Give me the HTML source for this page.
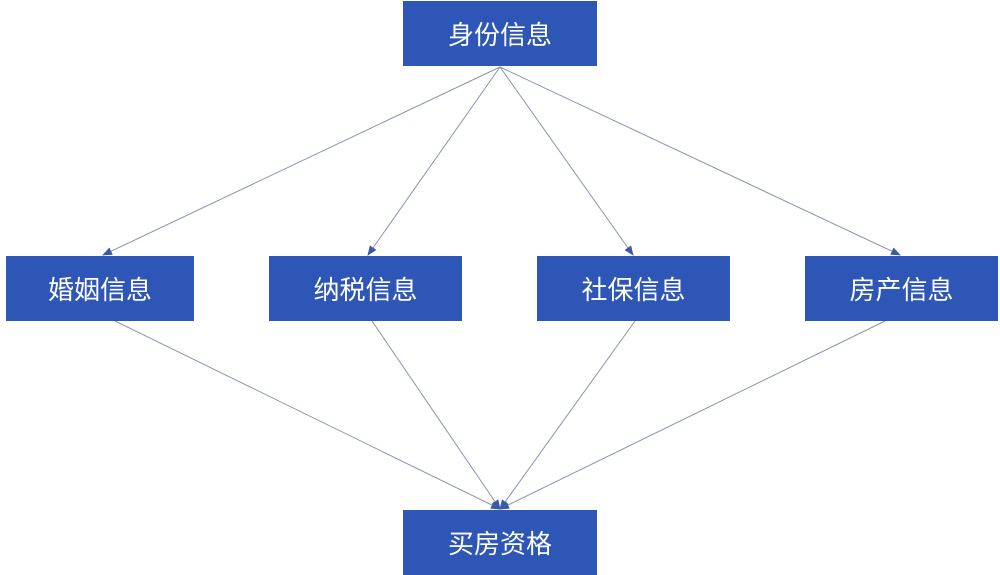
<!DOCTYPE html>
<html><head><meta charset="utf-8"><style>
body{margin:0;width:1000px;height:575px;background:#fff;position:relative;overflow:hidden;font-family:"Liberation Sans","Noto Sans CJK SC",sans-serif}
.b{position:absolute;background:#2e56b6;color:#fff;font-size:26px;display:flex;align-items:center;justify-content:center;height:65px}
svg{position:absolute;left:0;top:0}
</style></head><body>
<svg width="1000" height="575">
<defs><marker id="a" markerWidth="10" markerHeight="10" refX="9" refY="5" orient="auto" markerUnits="userSpaceOnUse"><path d="M0,1 L10,5 L0,9 z" fill="#3a5aa8"/></marker></defs>
<g stroke="#8a94b0" stroke-width="1" fill="none" marker-end="url(#a)">
<line x1="500" y1="67" x2="103" y2="255"/>
<line x1="500" y1="67" x2="368" y2="255"/>
<line x1="500" y1="67" x2="633" y2="255"/>
<line x1="500" y1="67" x2="900" y2="255"/>
<line x1="115" y1="321" x2="500" y2="509"/>
<line x1="372" y1="321" x2="500" y2="509"/>
<line x1="635" y1="321" x2="500" y2="509"/>
<line x1="885" y1="321" x2="500" y2="509"/>
</g></svg>
<div class="b" style="left:403px;top:1px;width:194px">身份信息</div>
<div class="b" style="left:6px;top:256px;width:188px">婚姻信息</div>
<div class="b" style="left:269px;top:256px;width:193px">纳税信息</div>
<div class="b" style="left:537px;top:256px;width:193px">社保信息</div>
<div class="b" style="left:805px;top:256px;width:193px">房产信息</div>
<div class="b" style="left:403px;top:510px;width:194px">买房资格</div>
</body></html>
